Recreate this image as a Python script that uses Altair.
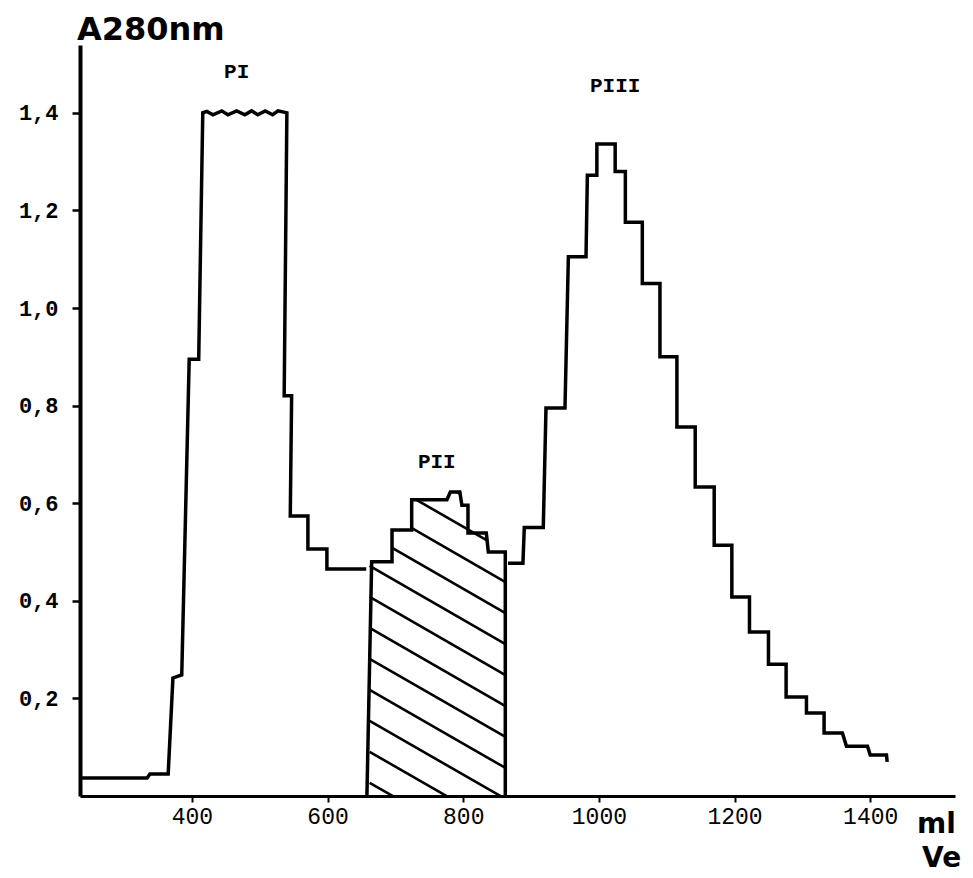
import altair as alt
import pandas as pd
import numpy as np

# ---- data (ml, A280) ----
# Segment 1: baseline + peak PI + shoulder
pi_ml = [238, 334, 338, 365, 372, 385, 396, 410, 416, 422, 431, 444, 453, 466, 478, 488,
         497, 508, 519, 527, 540, 536, 547, 545, 571, 571, 599, 599, 657]
pi_A = [0.037, 0.037, 0.045, 0.045, 0.242, 0.248, 0.895, 0.895, 1.40, 1.403, 1.396, 1.404,
        1.396, 1.404, 1.396, 1.404, 1.396, 1.404, 1.396, 1.404, 1.40, 0.82, 0.82, 0.574,
        0.574, 0.506, 0.506, 0.465, 0.465]

# Segment 2: hatched fraction PII (outline)
pii_ml = [658, 665, 695, 695, 724, 724, 776, 781, 795, 798, 807, 807, 834, 837, 862, 862]
pii_A = [0.0, 0.48, 0.48, 0.545, 0.545, 0.607, 0.607, 0.623, 0.623, 0.596, 0.596, 0.539,
         0.539, 0.50, 0.50, 0.0]

# Segment 3: peak PIII and tail
piii_ml = [866, 888, 890, 918, 922, 950, 955, 981, 983, 997, 997, 1024, 1024, 1039, 1039,
           1064, 1064, 1090, 1090, 1115, 1115, 1142, 1142, 1170, 1170, 1196, 1196, 1222,
           1222, 1250, 1250, 1276, 1276, 1306, 1306, 1332, 1332, 1359, 1365, 1396, 1400,
           1424, 1425]
piii_A = [0.477, 0.477, 0.55, 0.55, 0.795, 0.795, 1.105, 1.105, 1.272, 1.272, 1.336, 1.336,
          1.28, 1.28, 1.176, 1.176, 1.05, 1.05, 0.90, 0.90, 0.756, 0.756, 0.633, 0.633,
          0.514, 0.514, 0.408, 0.408, 0.336, 0.336, 0.27, 0.27, 0.203, 0.203, 0.17, 0.17,
          0.129, 0.129, 0.102, 0.102, 0.084, 0.084, 0.07]

peak_labels = ["PI", "PII", "PIII"]
peak_ml = [466, 761, 1024]
peak_A = [1.484, 0.684, 1.455]

x_ticks = [400, 600, 800, 1000, 1200, 1400]
y_ticks = [0.2, 0.4, 0.6, 0.8, 1.0, 1.2, 1.4]

X_DOMAIN = [235, 1525]
Y_DOMAIN = [0, 1.539]
W, H = 875, 751

# ---- build tables ----
rows = []
for seg, (xs, ys) in enumerate([(pi_ml, pi_A), (pii_ml, pii_A), (piii_ml, piii_A)]):
    for i, (a, b) in enumerate(zip(xs, ys)):
        rows.append({"ml": a, "A": b, "seg": seg, "order": i})
curve = pd.DataFrame(rows)

# hatch lines clipped to the PII region
def top_of(m):
    xs, ys = pii_ml[1:-1], pii_A[1:-1]
    for j in range(len(xs) - 1):
        if xs[j] <= m <= xs[j + 1] and xs[j + 1] > xs[j]:
            t = (m - xs[j]) / (xs[j + 1] - xs[j])
            return ys[j] + t * (ys[j + 1] - ys[j])
    return None

px_per_ml = W / (X_DOMAIN[1] - X_DOMAIN[0])
px_per_A = H / (Y_DOMAIN[1] - Y_DOMAIN[0])
slope = -0.575 * px_per_ml / px_per_A
left, right = 662, 861
samples = np.arange(left, right + 0.01, 0.25)
tops = np.array([top_of(m) if top_of(m) is not None else 0.48 for m in samples])
hatch = []
for k in range(0, 12):
    b = 0.027 + 0.0635 * k
    line = b + slope * (samples - left)
    inside = (line >= 0) & (line <= tops)
    if inside.sum() < 2:
        continue
    idx = np.where(inside)[0]
    m0, m1 = samples[idx[0]], samples[idx[-1]]
    hatch.append({"x": m0, "y": b + slope * (m0 - left),
                  "x2": m1, "y2": b + slope * (m1 - left)})
hatch = pd.DataFrame(hatch)

labels = pd.DataFrame({"t": peak_labels, "ml": peak_ml, "A": peak_A})

xscale = alt.Scale(domain=X_DOMAIN, nice=False, zero=False)
yscale = alt.Scale(domain=Y_DOMAIN, nice=False, zero=False)

xaxis = alt.Axis(values=x_ticks, format="d", title=None, grid=False,
                 domainColor="black", domainWidth=3, tickColor="black", tickWidth=2,
                 tickSize=6, labelFont="Liberation Mono", labelFontSize=23,
                 labelColor="black", labelPadding=3, labelFlush=False)
yaxis = alt.Axis(values=y_ticks, title=None, grid=False,
                 labelExpr="replace(format(datum.value, '.1f'), '.', ',')",
                 domainColor="black", domainWidth=4, tickColor="black", tickWidth=2.5,
                 tickSize=8, labelFont="Liberation Mono", labelFontWeight="bold",
                 labelFontSize=22, labelColor="black", labelPadding=14, labelFlush=False)

line = alt.Chart(curve).mark_line(color="black", strokeWidth=3.5, strokeJoin="miter").encode(
    x=alt.X("ml:Q", scale=xscale, axis=xaxis),
    y=alt.Y("A:Q", scale=yscale, axis=yaxis),
    detail="seg:N",
    order="order:Q",
)

hatch_layer = alt.Chart(hatch).mark_rule(color="black", strokeWidth=2.6).encode(
    x=alt.X("x:Q", scale=xscale), y=alt.Y("y:Q", scale=yscale),
    x2="x2:Q", y2="y2:Q",
)

peak_text = alt.Chart(labels).mark_text(font="Liberation Mono", fontWeight="bold",
                                        fontSize=21, color="black").encode(
    x=alt.X("ml:Q", scale=xscale), y=alt.Y("A:Q", scale=yscale), text="t:N")

def free_text(txt, x, y, size):
    return alt.Chart(pd.DataFrame({"t": [txt]})).mark_text(
        font="DejaVu Sans", fontWeight="bold", fontSize=size, color="black",
        align="left", baseline="alphabetic").encode(
        x=alt.value(x), y=alt.value(y), text="t:N")

y_title = free_text("A280nm", -3, -5, 32)
ml_t = free_text("ml", 837, 788, 28)
ve_t = free_text("Ve", 842, 822, 28)

chart = alt.layer(line, hatch_layer, peak_text, y_title, ml_t, ve_t).properties(
    width=W, height=H,
    autosize=alt.AutoSizeParams(type="none"),
    padding={"left": 80, "top": 45, "right": 18, "bottom": 82},
    background="white",
).configure_view(stroke=None)

chart.save("out.html", embed_options={"renderer": "svg", "actions": False})
